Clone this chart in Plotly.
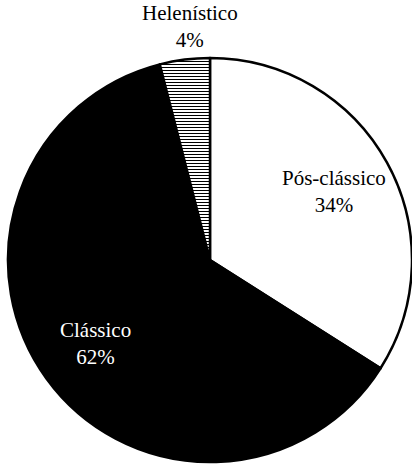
import math
import plotly.graph_objects as go

# Share of finds by period
periods = ["Pós-clássico", "Clássico", "Helenístico"]
shares = [34, 62, 4]
fill_colors = ["#ffffff", "#000000", "#ffffff"]
label_colors = ["#000000", "#ffffff", "#000000"]
patterns = ["", "", "-"]

W, H = 412, 464
dom_x = [8 / W, 1.0]
dom_y = [2 / H, 406 / H]
LABEL_FONT = "'Times New Roman', 'Liberation Serif', 'DejaVu Serif', serif"

fig = go.Figure(
    go.Pie(
        labels=periods,
        values=shares,
        sort=False,
        direction="clockwise",
        rotation=0,
        textinfo="none",
        hoverinfo="label+percent",
        marker=dict(
            colors=fill_colors,
            line=dict(color="#000000", width=2.5),
            pattern=dict(shape=patterns, fgcolor="#000000", bgcolor="#ffffff",
                         size=3, solidity=0.35),
        ),
        domain=dict(x=dom_x, y=dom_y),
        showlegend=False,
    )
)

# Label placement derived from each slice's angular midpoint
cx_px = (dom_x[0] + dom_x[1]) / 2 * W
cy_px = (1 - (dom_y[0] + dom_y[1]) / 2) * H
radius = min((dom_x[1] - dom_x[0]) * W, (dom_y[1] - dom_y[0]) * H) / 2
total = sum(shares)
start = 0.0
annotations = []
for name, val, col in zip(periods, shares, label_colors):
    frac = val / total
    mid = (start + frac / 2) * 2 * math.pi
    start += frac
    text = f"{name}<br>{round(100 * frac)}%"
    if frac > 0.1:
        rr = 0.7 * radius
        px = cx_px + rr * math.sin(mid)
        py = cy_px - rr * math.cos(mid)
        annotations.append(dict(x=px / W, y=1 - py / H, xref="paper", yref="paper",
                                text=text, showarrow=False, xanchor="center",
                                yanchor="middle",
                                font=dict(family=LABEL_FONT, size=21, color=col)))
    else:
        rr = radius + 6
        px = cx_px + rr * math.sin(mid) + 6
        py = cy_px - rr * math.cos(mid)
        annotations.append(dict(x=px / W, y=1 - py / H, xref="paper", yref="paper",
                                text=text, showarrow=False, xanchor="center",
                                yanchor="bottom",
                                font=dict(family=LABEL_FONT, size=21, color=col)))

fig.update_layout(
    width=W,
    height=H,
    margin=dict(l=0, r=0, t=0, b=0),
    paper_bgcolor="#ffffff",
    plot_bgcolor="#ffffff",
    font=dict(family=LABEL_FONT, size=21, color="#000000"),
    annotations=annotations,
)

fig.write_html("out.html")
